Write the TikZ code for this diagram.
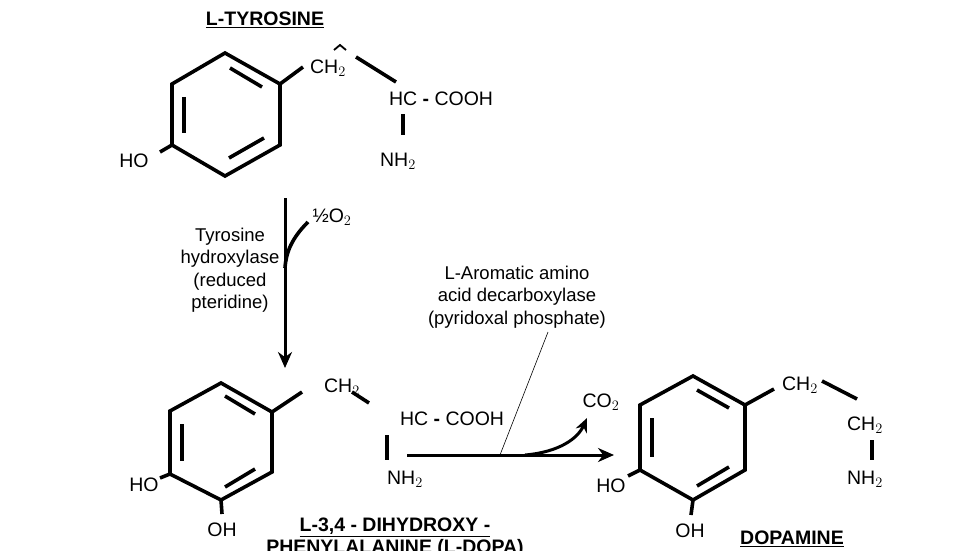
\documentclass[tikz,border=0pt]{standalone}
\usepackage{fontspec}
\setmainfont{Liberation Sans}
\usetikzlibrary{arrows.meta}
\begin{document}
\begin{tikzpicture}[x=1pt,y=-1pt,
 bond/.style={line width=3.6pt},
 lab/.style={inner sep=0pt,font=\fontsize{19.5}{22}\selectfont},
 ttl/.style={inner sep=0pt,font=\fontsize{19.5}{22}\selectfont\bfseries},
 enz/.style={inner sep=0pt,align=center,font=\fontsize{18.5}{22.5}\selectfont},
 arr/.style={line width=3pt,-{Stealth[length=16pt,width=14pt]}}]
\useasboundingbox (0,0) rectangle (978,551);
\clip (0,0) rectangle (978,551);
% L-Tyrosine
\node[ttl] (t1) at (265,20) {\underline{L-TYROSINE}};
\coordinate (a1) at (225,53); \coordinate (a2) at (280,84); \coordinate (a3) at (280,145);
\coordinate (a4) at (225,176); \coordinate (a5) at (172,145); \coordinate (a6) at (172,84);
\draw[bond] (a1)--(a2)--(a3)--(a4)--(a5)--(a6)--cycle;
\draw[bond] (184,97)--(184,133);
\draw[bond] (230,68)--(262,87);
\draw[bond] (229,158)--(264,138);
\node[lab] (ho1) at (134,161) {HO};
\draw[bond] (a5)--(160,152);
\node[lab] (ch1) at (328,68) {CH$_2$};
\draw[bond] (a2)--(303,67);
\draw[line width=1.8pt] (334,50)--(340,45)--(346,50);
\draw[bond] (356,57)--(396,82);
\node[lab] (hc1) at (441,99) {HC \textbf{-} COOH};
\draw[bond] (403,114)--(403,135);
\node[lab] (nh1) at (398,161) {NH$_2$};
% arrow 1
\coordinate (s1) at (285,198);
\coordinate (e1) at (285,368);
\draw[arr] (s1)--(e1);
\node[lab] (o2) at (332,217) {½O$_2$};
\draw[bond] (308,222) .. controls (292,238) and (286,252) .. (285,268);
\node[enz] (enz1) at (230,270) {Tyrosine\\hydroxylase\\(reduced\\pteridine)};
% L-DOPA
\coordinate (b1) at (221,383); \coordinate (b2) at (272,412); \coordinate (b3) at (272,472);
\coordinate (b4) at (221,500); \coordinate (b5) at (170,474); \coordinate (b6) at (170,411);
\draw[bond] (b1)--(b2)--(b3)--(b4)--(b5)--(b6)--cycle;
\draw[bond] (182,424)--(182,461);
\draw[bond] (225,396)--(255,414);
\draw[bond] (225,487)--(255,469);
\node[lab] (ho2) at (144,485) {HO};
\draw[bond] (b5)--(160,478);
\node[lab] (oh2) at (222,530) {OH};
\draw[bond] (b4)--(222,514);
\node[lab] (ch2) at (342,387) {CH$_2$};
\draw[bond] (b2)--(302,392);
\draw[bond] (352,392)--(369,403);
\node[lab] (hc2) at (452,419) {HC \textbf{-} COOH};
\draw[bond] (387,435)--(387,460);
\node[lab] (nh2) at (405,479) {NH$_2$};
\node[ttl,align=center] (dopa) at (395,538) {\underline{L-3,4 - DIHYDROXY -}\\PHENYLALANINE (L-DOPA)};
% arrow 2
\coordinate (s2) at (407,455);
\coordinate (e2) at (614,455);
\coordinate (br) at (525,455);
\draw[arr] (s2)--(e2);
\coordinate (c2) at (587,418);
\draw[line width=3pt,-{Stealth[length=14pt,width=12pt]}] (br) .. controls (560,452) and (578,438) .. (c2);
\node[lab] (co2) at (601,402) {CO$_2$};
\node[enz] (enz2) at (517,297) {L-Aromatic amino\\acid decarboxylase\\(pyridoxal phosphate)};
\draw[line width=0.6pt] (548,332)--(500,455);
% Dopamine
\coordinate (d1) at (693,376); \coordinate (d2) at (745,405); \coordinate (d3) at (745,470);
\coordinate (d4) at (693,500); \coordinate (d5) at (640,470); \coordinate (d6) at (640,405);
\draw[bond] (d1)--(d2)--(d3)--(d4)--(d5)--(d6)--cycle;
\draw[bond] (652,418)--(652,457);
\draw[bond] (697,390)--(729,408);
\draw[bond] (697,486)--(729,467);
\node[lab] (ho3) at (611,486) {HO};
\draw[bond] (d5)--(628,476);
\node[lab] (oh3) at (690,531) {OH};
\draw[bond] (d4)--(691,515);
\node[lab] (ch3) at (800,385) {CH$_2$};
\draw[bond] (d2)--(774,389);
\draw[bond] (822,381)--(857,399);
\node[lab] (ch4) at (865,425) {CH$_2$};
\draw[bond] (872,440)--(872,460);
\node[lab] (nh3) at (865,479) {NH$_2$};
\node[ttl] (dm) at (792,539) {\underline{DOPAMINE}};
\end{tikzpicture}
\end{document}
